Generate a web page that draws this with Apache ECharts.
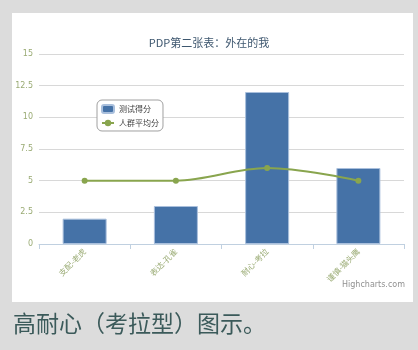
<!DOCTYPE html>
<html>
<head>
<meta charset="utf-8">
<script src="https://cdn.jsdelivr.net/npm/echarts@6/dist/echarts.min.js"></script>
<style>
  html, body { margin: 0; padding: 0; background: #dcdcdc; }
  #chart { width: 418px; height: 350px; }
</style>
</head>
<body>
<div id="chart"></div>
<script>
// Personality categories and scores
const categories = ['支配-老虎', '表达-孔雀', '耐心-考拉', '谨慎-猫头鹰'];
const testScores = [2, 3, 12, 6];
const averageScores = [5, 5, 6, 5];
const yTicks = { min: 0, max: 15, interval: 2.5 };

const chart = echarts.init(document.getElementById('chart'), null, { renderer: 'canvas' });

const labelFont = '"Noto Sans CJK SC", "Noto Sans", sans-serif';

chart.setOption({
  backgroundColor: '#dcdcdc',
  animation: false,
  graphic: [
    {
      type: 'rect',
      z: -10,
      shape: { x: 12, y: 13, width: 401, height: 289 },
      style: { fill: '#ffffff' }
    },
    {
      type: 'text',
      left: 13,
      top: 312,
      style: {
        text: '高耐心（考拉型）图示。',
        font: '23px ' + labelFont,
        fill: '#3b5a5a'
      }
    },
    {
      type: 'text',
      right: 13,
      top: 281,
      style: {
        text: 'Highcharts.com',
        font: '8px "DejaVu Sans", sans-serif',
        fill: '#909090'
      }
    }
  ],
  title: {
    text: 'PDP第二张表：外在的我',
    left: 'center',
    top: 32,
    textStyle: {
      color: '#3e576f',
      fontSize: 11,
      fontWeight: 'normal',
      fontFamily: labelFont
    }
  },
  legend: {
    left: 97,
    top: 100,
    orient: 'vertical',
    itemWidth: 12,
    itemHeight: 8,
    itemGap: 5,
    padding: [4, 4, 4, 4],
    borderColor: '#a0a0a0',
    borderWidth: 1,
    borderRadius: 5,
    backgroundColor: '#ffffff',
    textStyle: { fontSize: 8, color: '#3e3e3e', fontFamily: labelFont },
    data: ['测试得分', '人群平均分']
  },
  grid: { left: 39, right: 14, top: 54, bottom: 106 },
  xAxis: {
    type: 'category',
    data: categories,
    axisLine: { lineStyle: { color: '#c0d0e0' } },
    axisTick: { show: true, length: 5, lineStyle: { color: '#c0d0e0' } },
    axisLabel: {
      rotate: 45,
      fontSize: 8,
      color: '#9aab74',
      margin: 6,
      fontFamily: labelFont
    }
  },
  yAxis: {
    type: 'value',
    min: yTicks.min,
    max: yTicks.max,
    interval: yTicks.interval,
    axisLine: { show: false },
    axisTick: { show: false },
    splitLine: { lineStyle: { color: '#d8d8d8' } },
    axisLabel: {
      fontSize: 8,
      color: '#9aab74',
      margin: 6,
      fontFamily: '"DejaVu Sans", sans-serif'
    }
  },
  series: [
    {
      name: '测试得分',
      type: 'bar',
      data: testScores,
      barWidth: 44,
      itemStyle: {
        color: '#4572a7',
        borderColor: '#a9bfdc',
        borderWidth: 1
      }
    },
    {
      name: '人群平均分',
      type: 'line',
      data: averageScores,
      smooth: 0.35,
      symbol: 'circle',
      symbolSize: 6,
      lineStyle: { color: '#89a54e', width: 2 },
      itemStyle: { color: '#89a54e' }
    }
  ]
});
</script>
</body>
</html>
